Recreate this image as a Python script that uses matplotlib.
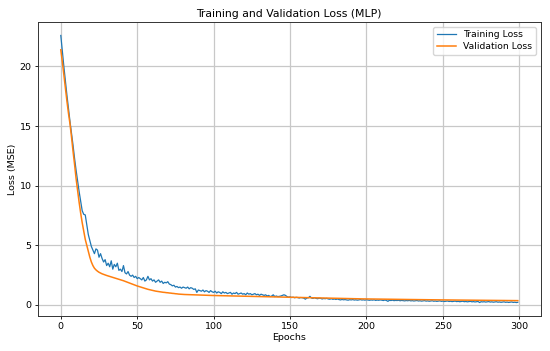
import matplotlib
matplotlib.use("Agg")
import matplotlib.pyplot as plt

train_loss = [
    22.6, 21.3, 20.0, 18.8, 17.6, 16.5, 15.4, 14.4, 13.4, 12.3,
    11.3, 10.4, 9.5, 8.7, 7.9, 7.6, 7.55, 6.7, 5.9, 5.4,
    4.9, 4.6, 4.3, 4.7, 4.6, 4.0, 4.3, 3.9, 3.6, 3.8,
    3.3, 3.5, 3.2, 3.7, 3.0, 3.4, 3.2, 3.5, 2.9, 3.0,
    2.8, 3.3, 2.7, 2.6, 2.8, 2.5, 2.4, 2.5, 2.3, 2.4,
    2.2, 2.3, 2.2, 2.1, 2.3, 2.0, 2.1, 2.4, 2.1, 2.2,
    2.0, 2.1, 1.9, 2.0, 2.1, 1.9, 2.0, 1.8, 1.9, 1.85,
    1.95, 1.75, 1.7, 1.6, 1.65, 1.5, 1.55, 1.45, 1.5, 1.4,
    1.5, 1.45, 1.4, 1.5, 1.35, 1.45, 1.4, 1.3, 1.35, 1.05,
    1.25, 1.2, 1.15, 1.25, 1.1, 1.2, 1.15, 1.05, 1.2, 1.1,
    1.05, 1.15, 1.0, 1.1, 1.05, 0.95, 1.1, 1.0, 1.05, 0.95,
    1.0, 1.05, 0.9, 1.0, 0.95, 1.05, 0.9, 0.95, 1.0, 0.9,
    0.95, 0.85, 1.0, 0.9, 0.95, 0.85, 0.9, 0.95, 0.85, 0.9,
    0.8, 0.9, 0.85, 0.8, 0.85, 0.75, 0.8, 0.7, 0.75, 0.85,
    0.7, 0.75, 0.7, 0.72, 0.75, 0.8, 0.85, 0.8, 0.7, 0.65,
    0.68, 0.62, 0.65, 0.6, 0.64, 0.62, 0.58, 0.62, 0.6, 0.57,
    0.48, 0.58, 0.6, 0.72, 0.58, 0.55, 0.6, 0.55, 0.52, 0.56,
    0.55, 0.5, 0.54, 0.52, 0.55, 0.5, 0.48, 0.52, 0.47, 0.5,
    0.46, 0.5, 0.45, 0.42, 0.46, 0.43, 0.45, 0.42, 0.4, 0.44,
    0.42, 0.45, 0.41, 0.43, 0.4, 0.42, 0.45, 0.41, 0.43, 0.4,
    0.44, 0.41, 0.39, 0.42, 0.4, 0.43, 0.38, 0.41, 0.39, 0.42,
    0.4, 0.37, 0.41, 0.38, 0.3, 0.39, 0.37, 0.4, 0.36, 0.38,
    0.37, 0.39, 0.35, 0.38, 0.36, 0.34, 0.37, 0.35, 0.38, 0.34,
    0.36, 0.33, 0.35, 0.37, 0.33, 0.35, 0.32, 0.34, 0.36, 0.32,
    0.34, 0.31, 0.33, 0.35, 0.31, 0.33, 0.3, 0.32, 0.34, 0.3,
    0.32, 0.29, 0.31, 0.33, 0.29, 0.31, 0.28, 0.3, 0.32, 0.28,
    0.3, 0.27, 0.29, 0.31, 0.27, 0.29, 0.26, 0.28, 0.3, 0.26,
    0.28, 0.25, 0.27, 0.29, 0.2, 0.27, 0.25, 0.27, 0.24, 0.26,
    0.28, 0.24, 0.26, 0.23, 0.25, 0.27, 0.23, 0.25, 0.22, 0.24,
    0.26, 0.22, 0.24, 0.21, 0.23, 0.25, 0.21, 0.23, 0.2, 0.22,
]

val_loss = [
    21.4, 20.4, 19.3, 18.2, 17.1, 16.1, 15.2, 14.1, 12.9, 11.8,
    10.6, 9.6, 8.6, 7.7, 6.9, 6.2, 5.5, 5.0, 4.5, 4.0,
    3.6, 3.3, 3.08, 2.94, 2.83, 2.74, 2.67, 2.61, 2.56, 2.51,
    2.47, 2.43, 2.39, 2.35, 2.31, 2.27, 2.23, 2.19, 2.15, 2.11,
    2.07, 2.03, 1.98, 1.94, 1.89, 1.84, 1.79, 1.74, 1.69, 1.64,
    1.59, 1.55, 1.51, 1.47, 1.43, 1.39, 1.35, 1.31, 1.28, 1.25,
    1.22, 1.19, 1.16, 1.14, 1.12, 1.10, 1.08, 1.06, 1.05, 1.03,
    1.02, 1.00, 0.99, 0.97, 0.96, 0.94, 0.93, 0.91, 0.90, 0.89,
    0.88, 0.875, 0.87, 0.865, 0.86, 0.855, 0.85, 0.845, 0.84, 0.835,
    0.83, 0.826, 0.822, 0.818, 0.814, 0.81, 0.806, 0.802, 0.798, 0.794,
    0.79, 0.787, 0.784, 0.781, 0.778, 0.775, 0.772, 0.769, 0.766, 0.763,
    0.76, 0.757, 0.754, 0.751, 0.748, 0.745, 0.742, 0.739, 0.736, 0.733,
    0.73, 0.727, 0.724, 0.721, 0.718, 0.715, 0.712, 0.709, 0.706, 0.703,
    0.70, 0.697, 0.694, 0.691, 0.688, 0.685, 0.682, 0.679, 0.676, 0.673,
    0.67, 0.667, 0.664, 0.661, 0.658, 0.655, 0.652, 0.649, 0.646, 0.643,
    0.64, 0.637, 0.634, 0.632, 0.629, 0.626, 0.623, 0.620, 0.618, 0.615,
    0.612, 0.609, 0.606, 0.604, 0.601, 0.598, 0.595, 0.592, 0.590, 0.587,
    0.584, 0.581, 0.578, 0.576, 0.573, 0.570, 0.567, 0.564, 0.562, 0.559,
    0.556, 0.553, 0.550, 0.548, 0.545, 0.542, 0.539, 0.536, 0.534, 0.531,
    0.528, 0.525, 0.522, 0.520, 0.517, 0.514, 0.511, 0.508, 0.506, 0.503,
    0.50, 0.498, 0.497, 0.495, 0.494, 0.492, 0.490, 0.489, 0.487, 0.486,
    0.484, 0.482, 0.481, 0.479, 0.478, 0.476, 0.474, 0.473, 0.471, 0.470,
    0.468, 0.466, 0.465, 0.463, 0.462, 0.460, 0.458, 0.457, 0.455, 0.454,
    0.452, 0.450, 0.449, 0.447, 0.446, 0.444, 0.442, 0.441, 0.439, 0.438,
    0.436, 0.434, 0.433, 0.431, 0.430, 0.428, 0.426, 0.425, 0.423, 0.422,
    0.42, 0.419, 0.418, 0.416, 0.415, 0.414, 0.413, 0.412, 0.410, 0.409,
    0.408, 0.407, 0.406, 0.404, 0.403, 0.402, 0.401, 0.400, 0.398, 0.397,
    0.396, 0.395, 0.394, 0.392, 0.391, 0.390, 0.389, 0.388, 0.386, 0.385,
    0.384, 0.383, 0.382, 0.380, 0.379, 0.378, 0.377, 0.376, 0.374, 0.373,
    0.372, 0.371, 0.370, 0.368, 0.367, 0.366, 0.365, 0.364, 0.362, 0.361,
]

epochs = list(range(len(train_loss)))

plt.rcParams['font.family'] = ['DejaVu Sans']
fig = plt.figure(figsize=(5.5, 3.51), dpi=100)
ax = fig.add_axes([0.069, 0.100, 0.914, 0.837])
ax.plot(epochs, train_loss, color='#1f77b4', lw=0.9, label='Training Loss')
ax.plot(epochs, val_loss, color='#ff7f0e', lw=1.1, label='Validation Loss')
ax.set_title('Training and Validation Loss (MLP)', fontsize=7.8, pad=4)
ax.set_xlabel('Epochs', fontsize=6.8, labelpad=1)
ax.set_ylabel('Loss (MSE)', fontsize=6.8, labelpad=2)
ax.tick_params(labelsize=6.8, length=2.5, width=0.6, pad=2)
ax.grid(True, color='#c8c8c8', lw=0.9)
for s in ax.spines.values():
    s.set_linewidth(0.7)
    s.set_color('#333333')
ax.legend(loc='upper right', fontsize=6.7, handlelength=2.0, borderpad=0.4, labelspacing=0.3)
fig.savefig('out.png', dpi=100)
